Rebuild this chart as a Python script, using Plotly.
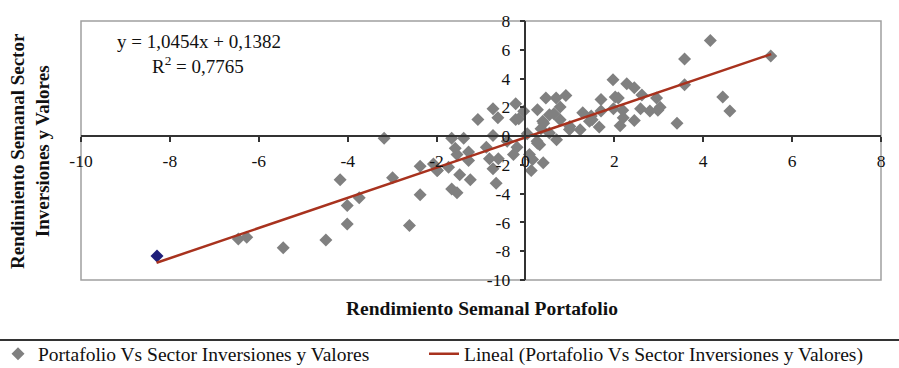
import plotly.graph_objects as go

# Data (Rendimiento semanal, %)
portafolio_x = [5.52, 4.16, 3.58, 3.58, 4.44, 4.60, 3.41,
                1.97, 2.28, 2.45, 2.62, 2.95, 2.02, 2.09, 1.70,
                1.98, 2.19, 2.59, 2.80, 3.03, 2.98,
                2.20, 2.45, 2.13, 1.66,
                1.29, 1.48, 1.44, 1.70, 1.50,
                1.23, 1.00, 0.99,
                0.91, 0.69, 0.46, 0.78, 0.54, 0.64, 0.78,
                0.27, 0.39, 0.35, 0.54, 0.70, 0.27, 0.32, 0.41, 0.26,
                0.04, 0.09, 0.16, 0.40, 0.13,
                -0.04, -0.22, -0.22, -0.15, -0.19, -0.27, -0.41,
                -0.73, -0.62, -0.73, -0.88, -0.81, -0.73, -0.66, -0.61,
                -1.07, -1.39, -1.28, -1.28, -1.48, -1.24, -1.54, -1.66,
                -1.66, -1.58, -1.54, -1.73, -1.99,
                -3.18, -4.17, -2.99, -2.37, -2.37, -2.07, -1.98,
                -4.01, -3.74, -4.01, -2.61, -4.49, -5.45, -6.46, -6.27]
sector_y = [5.57, 6.64, 5.36, 3.57, 2.71, 1.74, 0.90,
            3.92, 3.64, 3.36, 2.85, 2.64, 2.71, 2.64, 2.55,
            1.90, 1.79, 1.90, 1.74, 2.00, 1.80,
            1.28, 1.09, 0.72, 0.63,
            1.62, 1.39, 1.04, 1.75, 1.14,
            0.44, 0.67, 0.46,
            2.83, 2.64, 2.64, 2.02, 1.48, 1.55, 1.14,
            1.83, 1.04, 0.51, 0.21, -0.26, -0.49, -0.60, 0.90, -0.35,
            0.16, -1.28, -1.62, -1.86, -2.39,
            1.72, 2.25, 1.16, 1.21, -0.77, -1.28, -0.35,
            1.90, 1.28, 0.05, -0.77, -1.58, -2.27, -3.27, -1.58,
            1.16, -0.14, -1.11, -1.69, -2.69, -3.04, -3.94, -3.67,
            -0.14, -0.84, -1.28, -2.16, -2.39,
            -0.14, -3.04, -2.90, -2.09, -4.08, -1.93, -2.39,
            -4.83, -4.29, -6.10, -6.22, -7.22, -7.75, -7.15, -7.03]

highlight_x = [-8.29]
highlight_y = [-8.33]

trend_x = [-8.30, 5.53]
trend_y = [-8.80, 5.70]

tick_vals = [-10, -8, -6, -4, -2, 0, 2, 4, 6, 8]
tick_text = ["-10", "-8", "-6", "-4", "-2", "0", "2", "4", "6", "8"]

serie_name = "Portafolio Vs Sector Inversiones y Valores"
trend_name = "Lineal (Portafolio Vs Sector Inversiones y Valores)"
eq_text = "y = 1,0454x + 0,1382"
r2_text = "R<sup>2</sup> = 0,7765"
x_title = "Rendimiento Semanal Portafolio"
y_title = "Rendimiento Semanal Sector<br>Inversiones y Valores"

FONT = "Liberation Serif"
L, R, T, B = 81, 18, 21, 88
W, H = 899, 368
PW, PH = W - L - R, H - T - B


def px_to_paper_x(px):
    return (px - L) / PW


def px_to_paper_y(py):
    return (H - B - py) / PH


fig = go.Figure()
fig.add_trace(go.Scatter(
    x=portafolio_x, y=sector_y, mode="markers", name=serie_name,
    marker=dict(symbol="diamond", size=10, color="#808080"),
    legend="legend"))
fig.add_trace(go.Scatter(
    x=highlight_x, y=highlight_y, mode="markers", showlegend=False,
    marker=dict(symbol="diamond", size=10, color="#1F1F7A")))
fig.add_trace(go.Scatter(
    x=trend_x, y=trend_y, mode="lines", name=trend_name,
    line=dict(color="#A8321E", width=2.5), legend="legend2"))

axis_common = dict(
    range=[-10, 8], tickvals=tick_vals, ticktext=tick_text,
    showgrid=False, zeroline=False,
    showline=True, linecolor="#333333", linewidth=1.5,
    ticks="outside", ticklen=5, tickcolor="#333333", tickwidth=1.5,
    tickfont=dict(family=FONT, size=17.5, color="#111111"),
    anchor="free", position=10 / 18, fixedrange=True, automargin=False)

fig.update_layout(
    width=W, height=H,
    margin=dict(l=L, r=R, t=T, b=B, autoexpand=False),
    paper_bgcolor="white", plot_bgcolor="white",
    font=dict(family=FONT, color="#111111"),
    xaxis=dict(**axis_common, ticklabelstandoff=4),
    yaxis=dict(**axis_common, ticklabelstandoff=6),
    legend=dict(orientation="h", x=px_to_paper_x(-2), y=px_to_paper_y(354),
                xanchor="left", yanchor="middle",
                font=dict(family=FONT, size=19.5, color="#111111"),
                bgcolor="rgba(0,0,0,0)"),
    legend2=dict(orientation="h", x=px_to_paper_x(424), y=px_to_paper_y(354),
                 xanchor="left", yanchor="middle",
                 font=dict(family=FONT, size=19.5, color="#111111"),
                 bgcolor="rgba(0,0,0,0)"),
    shapes=[
        dict(type="rect", xref="paper", yref="paper", x0=0, x1=1, y0=0, y1=1,
             line=dict(color="#A0A0A0", width=1.5), layer="below"),
        dict(type="line", xref="paper", yref="paper",
             x0=px_to_paper_x(0), x1=px_to_paper_x(W),
             y0=px_to_paper_y(340), y1=px_to_paper_y(340),
             line=dict(color="#333333", width=2)),
    ],
    annotations=[
        dict(text=eq_text, xref="paper", yref="paper",
             x=px_to_paper_x(115), y=px_to_paper_y(42), xanchor="left",
             yanchor="middle", showarrow=False,
             font=dict(family=FONT, size=19, color="#111111")),
        dict(text=r2_text, xref="paper", yref="paper",
             x=px_to_paper_x(150), y=px_to_paper_y(65), xanchor="left",
             yanchor="middle", showarrow=False,
             font=dict(family=FONT, size=19, color="#111111")),
        dict(text="<b>" + x_title + "</b>", xref="paper", yref="paper",
             x=px_to_paper_x(482), y=px_to_paper_y(308), xanchor="center",
             yanchor="middle", showarrow=False,
             font=dict(family=FONT, size=19.5, color="#111111")),
        dict(text="<b>" + y_title + "</b>", xref="paper", yref="paper",
             x=px_to_paper_x(30), y=px_to_paper_y(151), xanchor="center",
             yanchor="middle", showarrow=False, textangle=-90,
             font=dict(family=FONT, size=19, color="#111111")),
    ],
)

fig.write_html("out.html",
               config={"displayModeBar": False},
               post_script="document.body.style.margin='0';")
